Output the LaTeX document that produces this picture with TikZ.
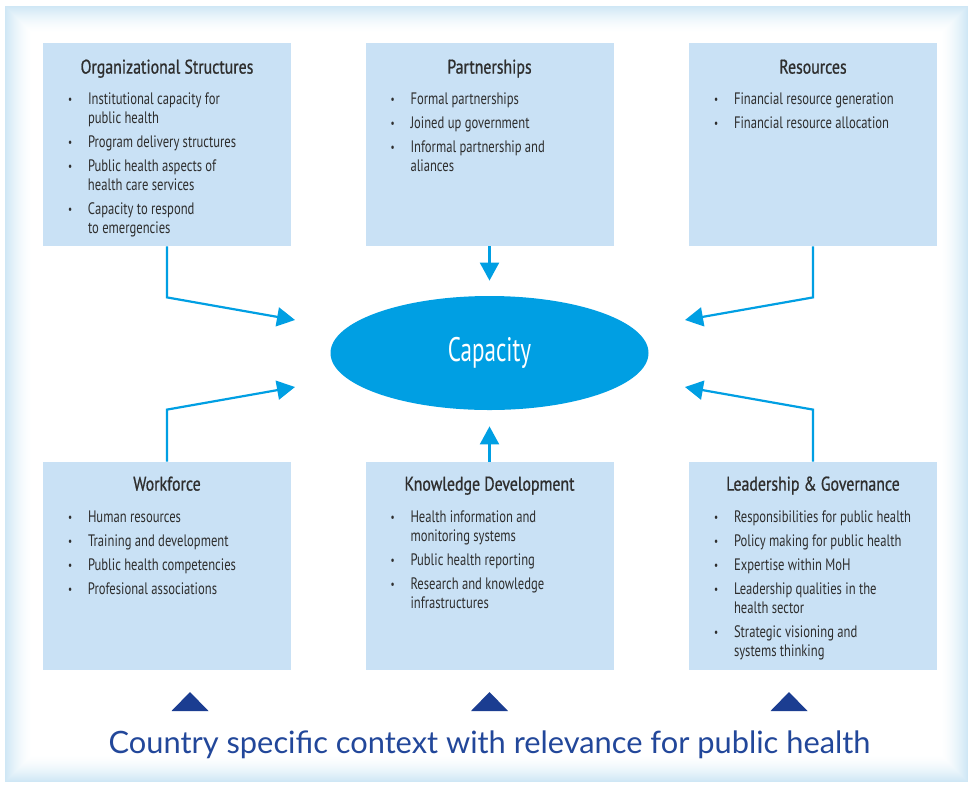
\documentclass[tikz,border=0pt]{standalone}
\usepackage{fontspec}
\setmainfont[FakeStretch=0.76]{PT Sans}
\newfontfamily\headfont[FakeStretch=0.8,FakeBold=0.8]{PT Sans}
\newfontfamily\capfont[FakeStretch=0.68]{PT Sans}
\newfontfamily\ctxfont{Lato}
\usetikzlibrary{arrows.meta,shapes.geometric,calc}

\definecolor{boxblue}{HTML}{C9E1F5}
\definecolor{capblue}{HTML}{009FE3}
\definecolor{navy}{HTML}{1B3D91}
\definecolor{ctxblue}{HTML}{22479A}
\definecolor{frameblue}{HTML}{CFE7F5}
\definecolor{txtgray}{HTML}{2E2E2E}

\newcommand{\bu}{\raisebox{0.6pt}{\fontsize{6}{6}\selectfont\textbullet}&}

\tikzset{
  area/.style={fill=boxblue, minimum width=124pt, inner sep=0pt},
  head/.style={anchor=base, font=\headfont\fontsize{9.9}{11}\selectfont, text=txtgray, inner sep=0pt},
  list/.style={anchor=base west, font=\fontsize{8.3}{9.5}\selectfont, text=txtgray, inner sep=0pt},
  link/.style={draw=capblue, line width=1.1pt, -{Triangle[length=9pt,width=9.5pt]}},
}

\begin{document}
\begin{tikzpicture}[x=0.5pt, y=-0.5pt]
\useasboundingbox (0,0) rectangle (973,788);
% frame with soft inner edge
\foreach \i in {0,...,27} {
  \pgfmathsetmacro{\amt}{100*(1-\i/27)^1.6}
  \fill[frameblue!\amt!white] ({5+\i},{6+\i}) rectangle ({968-\i},{782-\i});
}

% the six areas
\node[area, minimum height=101.5pt] (orgs) at (167,144.5) {};
\node[area, minimum height=101.5pt] (partner) at (489.5,144.5) {};
\node[area, minimum height=101.5pt] (resources) at (813,144.5) {};
\node[area, minimum height=104pt] (workforce) at (167,566) {};
\node[area, minimum height=104pt] (knowledge) at (489.5,566) {};
\node[area, minimum height=104pt] (leader) at (813,566) {};

\node[head] at ($(orgs.north)+(0,31)$) {Organizational Structures};
\node[head] at ($(partner.north)+(0,31)$) {Partnerships};
\node[head] at ($(resources.north)+(0,31)$) {Resources};
\node[head] at ($(workforce.north)+(0,29)$) {Workforce};
\node[head] at ($(knowledge.north)+(0,29)$) {Knowledge Development};
\node[head] at ($(leader.north)+(0,29)$) {Leadership \& Governance};

\node[list] at ($(orgs.north west)+(25,62)$) {\begin{tabular}[t]{@{}p{10pt}@{}l@{}}
\bu Institutional capacity for\\ & public health\\[2.5pt]
\bu Program delivery structures\\[2.5pt]
\bu Public health aspects of\\ & health care services\\[2.5pt]
\bu Capacity to respond\\ & to emergencies
\end{tabular}};
\node[list] at ($(partner.north west)+(25,62)$) {\begin{tabular}[t]{@{}p{10pt}@{}l@{}}
\bu Formal partnerships\\[2.5pt]
\bu Joined up government\\[2.5pt]
\bu Informal partnership and\\ & aliances
\end{tabular}};
\node[list] at ($(resources.north west)+(25,62)$) {\begin{tabular}[t]{@{}p{10pt}@{}l@{}}
\bu Financial resource generation\\[2.5pt]
\bu Financial resource allocation
\end{tabular}};
\node[list] at ($(workforce.north west)+(25,61)$) {\begin{tabular}[t]{@{}p{10pt}@{}l@{}}
\bu Human resources\\[2.5pt]
\bu Training and development\\[2.5pt]
\bu Public health competencies\\[2.5pt]
\bu Profesional associations
\end{tabular}};
\node[list] at ($(knowledge.north west)+(25,61)$) {\begin{tabular}[t]{@{}p{10pt}@{}l@{}}
\bu Health information and\\ & monitoring systems\\[2.5pt]
\bu Public health reporting\\[2.5pt]
\bu Research and knowledge\\ & infrastructures
\end{tabular}};
\node[list] at ($(leader.north west)+(25,61)$) {\begin{tabular}[t]{@{}p{10pt}@{}l@{}}
\bu Responsibilities for public health\\[2.5pt]
\bu Policy making for public health\\[2.5pt]
\bu Expertise within MoH\\[2.5pt]
\bu Leadership qualities in the\\ & health sector\\[2.5pt]
\bu Strategic visioning and\\ & systems thinking
\end{tabular}};

% centre
\node[ellipse, fill=capblue, minimum width=159pt, minimum height=57pt, inner sep=0pt,
  text=white, font=\capfont\fontsize{17}{19}\selectfont] (cap) at (489.5,353) {Capacity};
\coordinate (inUL) at (295,320);
\coordinate (inLL) at (295,387);
\coordinate (inUR) at (685,320);
\coordinate (inLR) at (685,387);

\draw[link] (orgs.south) -- ++(0,51) -- (inUL);
\draw[link] (resources.south) -- ++(0,51) -- (inUR);
\draw[link] (workforce.north) -- ++(0,-52) -- (inLL);
\draw[link] (leader.north) -- ++(0,-52) -- (inLR);
\draw[link, shorten >=7.5pt] (partner.south) -- (cap.north);
\draw[link, shorten >=8pt] (knowledge.north) -- (cap.south);

% context markers
\foreach \x in {190,489.5,789}
  \fill[navy] (\x,692) -- ({\x+18.5},711) -- ({\x-18.5},711) -- cycle;
\node[anchor=base, inner sep=0pt, text=ctxblue, font=\ctxfont\fontsize{15.4}{18}\selectfont] (context) at (489.5,753) {Country specific context with relevance for public health};
\end{tikzpicture}
\end{document}
